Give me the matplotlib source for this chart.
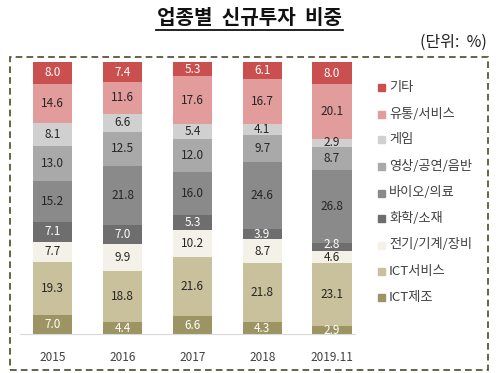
import matplotlib.pyplot as plt
import matplotlib.patches as mpatches
import matplotlib.lines as mlines
import numpy as np

plt.rcParams['font.family'] = ['Noto Sans CJK KR', 'DejaVu Sans']

# 데이터 (아래에서 위로 쌓는 순서)
years = ['2015', '2016', '2017', '2018', '2019.11']
categories = ['ICT제조', 'ICT서비스', '전기/기계/장비', '화학/소재', '바이오/의료',
              '영상/공연/음반', '게임', '유통/서비스', '기타']
values = {
    'ICT제조':       [7.0, 4.4, 6.6, 4.3, 2.9],
    'ICT서비스':     [19.3, 18.8, 21.6, 21.8, 23.1],
    '전기/기계/장비': [7.7, 9.9, 10.2, 8.7, 4.6],
    '화학/소재':     [7.1, 7.0, 5.3, 3.9, 2.8],
    '바이오/의료':   [15.2, 21.8, 16.0, 24.6, 26.8],
    '영상/공연/음반': [13.0, 12.5, 12.0, 9.7, 8.7],
    '게임':          [8.1, 6.6, 5.4, 4.1, 2.9],
    '유통/서비스':   [14.6, 11.6, 17.6, 16.7, 20.1],
    '기타':          [8.0, 7.4, 5.3, 6.1, 8.0],
}
colors = ['#9c9462', '#c9c19b', '#f4f2e8', '#6e6e6e', '#8a8a8a',
          '#a9a9a9', '#d0d0d0', '#e29c9b', '#c9504f']
text_colors = ['white', '#262626', '#262626', 'white', '#262626',
               '#262626', '#262626', '#262626', 'white']

W, H = 499, 373
fig = plt.figure(figsize=(W / 100, H / 100), dpi=100)

# 축 위치 (픽셀 기준)
ax = fig.add_axes([20 / W, 1 - 334 / H, 335 / W, 272 / H])
x = np.arange(len(years))
bottom = np.zeros(len(years))
for cat, col, tc in zip(categories, colors, text_colors):
    v = np.array(values[cat])
    ax.bar(x, v, bottom=bottom, width=0.56, color=col, edgecolor='none')
    for xi, b, vi in zip(x, bottom, v):
        # 아주 얇은 구간은 글자를 조금 위로
        yy = b + vi / 2 + (0.8 if vi < 3 and cat == '화학/소재' else 0)
        ax.text(xi, yy, f'{vi:.1f}', ha='center', va='center',
                fontsize=8.5, color=tc)
    bottom += v

ax.set_xlim(-0.471, 4.33)
ax.set_ylim(0, 100)
ax.set_yticks([])
ax.set_xticks(x)
ax.set_xticklabels(years, fontsize=8.5, color='#404040')
ax.tick_params(axis='x', length=0, pad=12)
for s in ['top', 'right', 'left']:
    ax.spines[s].set_visible(False)
ax.spines['bottom'].set_color('#d9d9d9')
ax.patch.set_alpha(0)

# 범례 (위에서 아래로)
leg_y = [87, 114, 140, 166, 193, 219, 245, 271, 297]
for yy, cat, col in zip(leg_y, categories[::-1], colors[::-1]):
    fig.patches.append(mpatches.Rectangle((378 / W, 1 - (yy + 3.5) / H), 7 / W, 7 / H,
                                          transform=fig.transFigure, color=col))
    fig.text(389 / W, 1 - yy / H, cat, fontsize=9.5, color='#404040', va='center')

# 점선 테두리
fig.patches.append(mpatches.Rectangle((10 / W, 1 - 370 / H), 478 / W, 313 / H,
                                      transform=fig.transFigure, fill=False,
                                      edgecolor='#4a4a2a', linestyle=(0, (4, 2.5)),
                                      linewidth=1.2))

# 제목 + 밑줄
fig.text(250 / W, 1 - 17 / H, '업종별  신규투자  비중', fontsize=14.5, fontweight='bold',
         ha='center', va='center', color='#111111')
fig.lines.append(mlines.Line2D([156 / W, 343 / W], [1 - 30 / H, 1 - 30 / H],
                               transform=fig.transFigure, color='#111111', linewidth=1.3))
fig.text(487 / W, 1 - 42 / H, '(단위:  %)', fontsize=11.5, ha='right', va='center',
         color='#222222')

plt.savefig('out.png', dpi=100)
